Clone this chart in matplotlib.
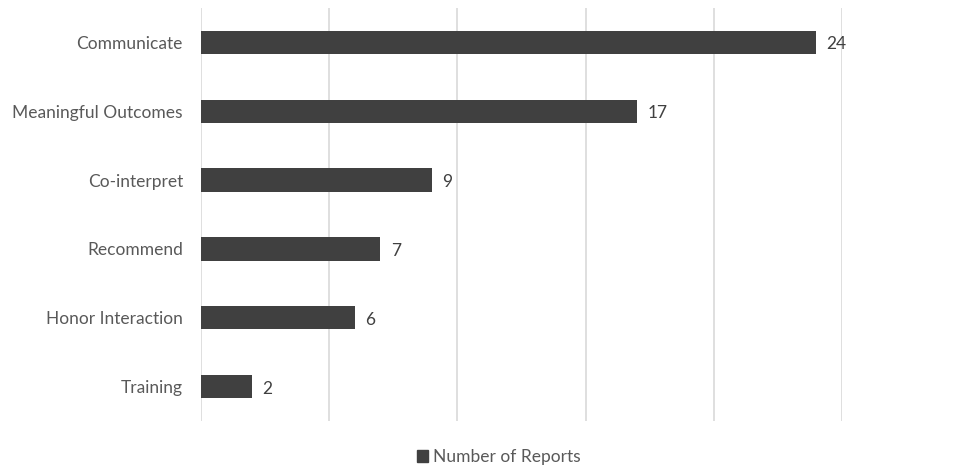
import matplotlib.pyplot as plt
from matplotlib.patches import Patch

# Données
categories = ["Communicate", "Meaningful Outcomes", "Co-interpret",
              "Recommend", "Honor Interaction", "Training"]
reports = [24, 17, 9, 7, 6, 2]
xticks = [0, 5, 10, 15, 20, 25]

bar_color = "#404040"
text_color = "#595959"

plt.rcParams['font.family'] = ['Lato', 'DejaVu Sans']

fig = plt.figure(figsize=(9.58, 4.65), dpi=100)
ax = fig.add_axes([201/958, 44/465, (842-201)/958, 413/465])

y = range(len(categories))
ax.barh(y, reports, height=0.34, color=bar_color)
for yi, v in zip(y, reports):
    ax.text(v + 0.4, yi + 0.03, str(v), va='center', ha='left',
            fontsize=12.5, color="#404040")

ax.set_xlim(0, 25)
ax.set_ylim(len(categories) - 0.5, -0.5)
ax.set_yticks(list(y))
ax.set_yticklabels(categories, fontsize=12.5, color=text_color)
ax.set_xticks(xticks)
ax.tick_params(axis='x', labelbottom=False, length=0)
ax.tick_params(axis='y', length=0, pad=13)
ax.grid(axis='x', color="#d9d9d9", lw=1.2)
ax.set_axisbelow(True)
for s in ax.spines.values():
    s.set_visible(False)

fig.legend(handles=[Patch(color=bar_color, label="Number of Reports")],
           loc='center', bbox_to_anchor=(499/958, 1 - 457/465),
           frameon=False, fontsize=12.5, handlelength=0.65, handleheight=0.65,
           handletextpad=0.3, labelcolor=text_color)

fig.savefig("out.png", dpi=100)
